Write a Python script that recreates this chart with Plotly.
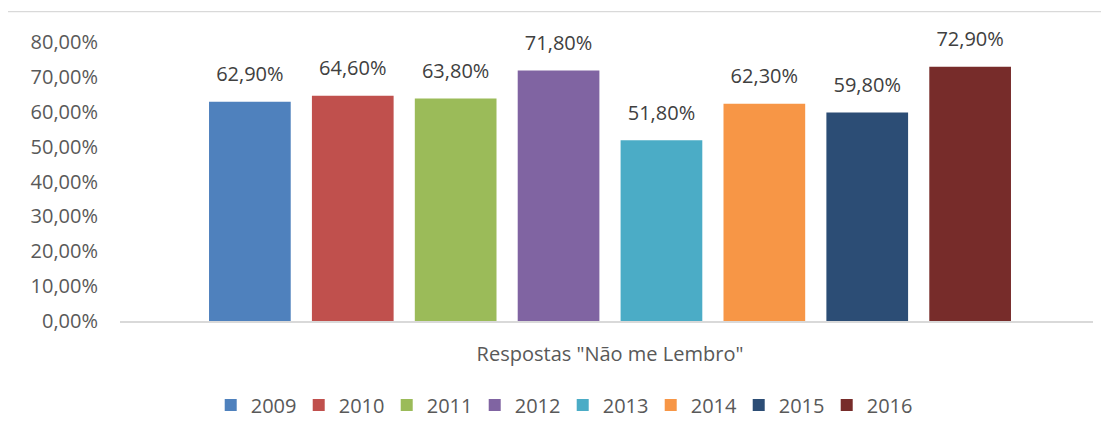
import plotly.graph_objects as go

category = ['Respostas "Não me Lembro"']
years = ["2009", "2010", "2011", "2012", "2013", "2014", "2015", "2016"]
values = [0.629, 0.646, 0.638, 0.718, 0.518, 0.623, 0.598, 0.729]
colors = ["#4F81BD", "#C0504D", "#9BBB59", "#8064A2", "#4BACC6", "#F79646", "#2C4D75", "#772C2A"]

FONT = "Open Sans"
FS = 20

fig = go.Figure()
for yr, v, c in zip(years, values, colors):
    fig.add_trace(go.Bar(
        name=yr, x=category, y=[v], legendgroup=yr,
        marker=dict(color=c, line=dict(width=0)),
        hoverinfo="skip",
    ))
for yr, v in zip(years, values):
    fig.add_trace(go.Scatter(
        name=yr, x=category, y=[v], legendgroup=yr, showlegend=False,
        mode="markers+text", texttemplate="%{y:.2%}", textposition="top center",
        marker=dict(size=23, color="rgba(0,0,0,0)", line=dict(width=0)),
        textfont=dict(family=FONT, size=FS, color="#404040"),
        cliponaxis=False, hoverinfo="skip",
    ))

fig.update_layout(
    width=1101, height=428,
    margin=dict(l=112, r=16, t=34, b=107),
    paper_bgcolor="white", plot_bgcolor="white",
    separators=",.",
    barmode="group", bargap=0.154, bargroupgap=0.206,
    scattermode="group", scattergap=0.154,
    font=dict(family=FONT, size=FS, color="#595959"),
    showlegend=True,
    legend=dict(orientation="h", x=0.455, xanchor="center", y=-0.301, yanchor="middle",
                entrywidth=43, entrywidthmode="pixels",
                font=dict(family=FONT, size=FS, color="#595959"), traceorder="normal"),
    xaxis=dict(range=[-0.5036, 0.4964], showline=True, linecolor="#d9d9d9", linewidth=1.5,
               showgrid=False, zeroline=False, ticks="", ticklabelstandoff=14,
               tickfont=dict(family=FONT, size=FS, color="#595959")),
    yaxis=dict(range=[0, 0.8], dtick=0.1, tickformat=".2%", showgrid=False, zeroline=False,
               showline=False, ticks="", ticklabelstandoff=21,
               tickfont=dict(family=FONT, size=FS, color="#595959")),
    shapes=[
        dict(type="line", xref="paper", yref="paper", x0=-0.116, x1=1.1, y0=1.109, y1=1.109,
             line=dict(color="#d9d9d9", width=1.2)),
        dict(type="line", xref="paper", yref="paper", x0=-0.116, x1=-0.116, y0=1.109, y1=-0.5,
             line=dict(color="#d9d9d9", width=1.2)),
    ],
)

fig.write_html("out.html")
